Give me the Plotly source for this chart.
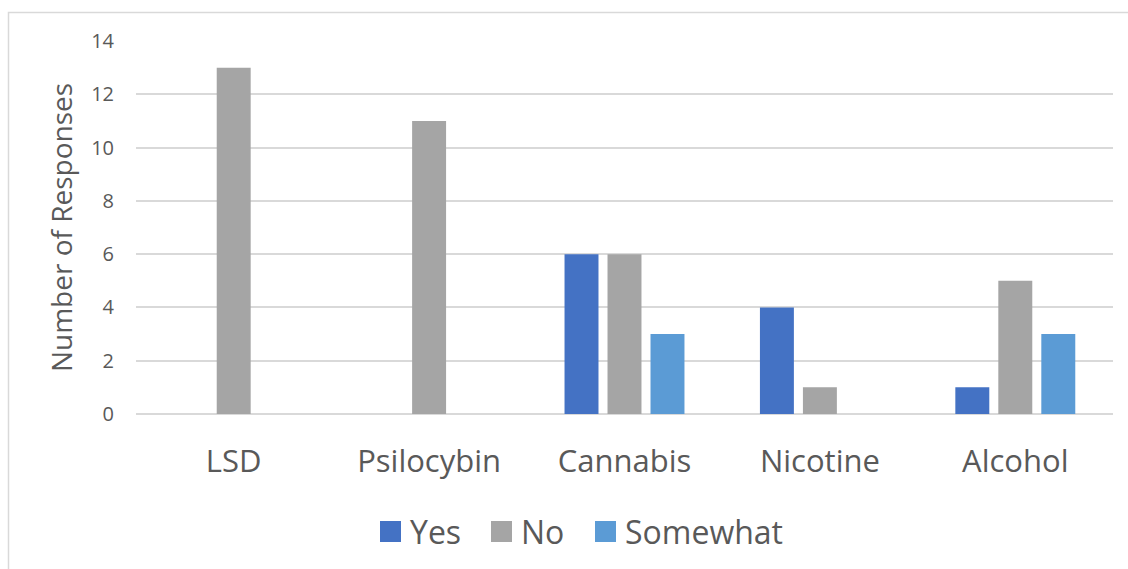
import plotly.graph_objects as go

# Survey responses per substance
categories = ["LSD", "Psilocybin", "Cannabis", "Nicotine", "Alcohol"]
yes_counts = [0, 0, 6, 4, 1]
no_counts = [13, 11, 6, 1, 5]
somewhat_counts = [0, 0, 3, 0, 3]
y_ticks = [0, 2, 4, 6, 8, 10, 12, 14]

series = [
    ("Yes", yes_counts, "#4472C4"),
    ("No", no_counts, "#A5A5A5"),
    ("Somewhat", somewhat_counts, "#5B9BD5"),
]

FONT = "Open Sans"
TEXT = "#595959"
GRID = "#D9D9D9"

W, H = 1128, 569
ML, MR, MT, MB = 136, 15, 41, 155
PW, PH = W - ML - MR, H - MT - MB


def px(x):
    return (x - ML) / PW


def py(y):
    return (H - MB - y) / PH


fig = go.Figure()
for name, vals, color in series:
    fig.add_trace(go.Bar(x=categories, y=vals, name=name,
                         marker=dict(color=color, line=dict(width=0)),
                         showlegend=False))

# Legend drawn as coloured squares with labels below the plot
shapes = []
annotations = []
legend_items = [("Yes", "#4472C4", 380), ("No", "#A5A5A5", 491), ("Somewhat", "#5B9BD5", 595)]
for name, color, x0 in legend_items:
    shapes.append(dict(type="rect", xref="paper", yref="paper",
                       x0=px(x0), x1=px(x0 + 21), y0=py(542), y1=py(521),
                       fillcolor=color, line=dict(width=0)))
    annotations.append(dict(text=name, xref="paper", yref="paper",
                            x=px(x0 + 28), y=py(531.5), xanchor="left", yanchor="middle",
                            showarrow=False, font=dict(family=FONT, size=32, color=TEXT)))

# Chart frame
shapes.append(dict(type="rect", xref="paper", yref="paper",
                   x0=px(8.5), x1=px(1160), y0=py(600), y1=py(12.5),
                   line=dict(color=GRID, width=1.5), fillcolor="rgba(0,0,0,0)"))

fig.update_layout(
    width=W, height=H,
    margin=dict(l=ML, r=MR, t=MT, b=MB),
    paper_bgcolor="white", plot_bgcolor="white",
    barmode="group", bargap=0.34, bargroupgap=0.21,
    font=dict(family=FONT, color=TEXT),
    shapes=shapes, annotations=annotations,
    xaxis=dict(showgrid=False, showline=False, zeroline=False,
               tickfont=dict(family=FONT, size=31, color=TEXT),
               ticklabelstandoff=26),
    yaxis=dict(range=[0, 14], tickvals=y_ticks, showgrid=True, gridcolor=GRID,
               gridwidth=1.5, zeroline=True, zerolinecolor=GRID, zerolinewidth=1.5,
               showline=False,
               tickfont=dict(family=FONT, size=20, color=TEXT),
               ticklabelstandoff=21,
               title=dict(text="Number of Responses", standoff=10,
                          font=dict(family=FONT, size=28, color=TEXT))),
)

fig.write_html("out.html")
